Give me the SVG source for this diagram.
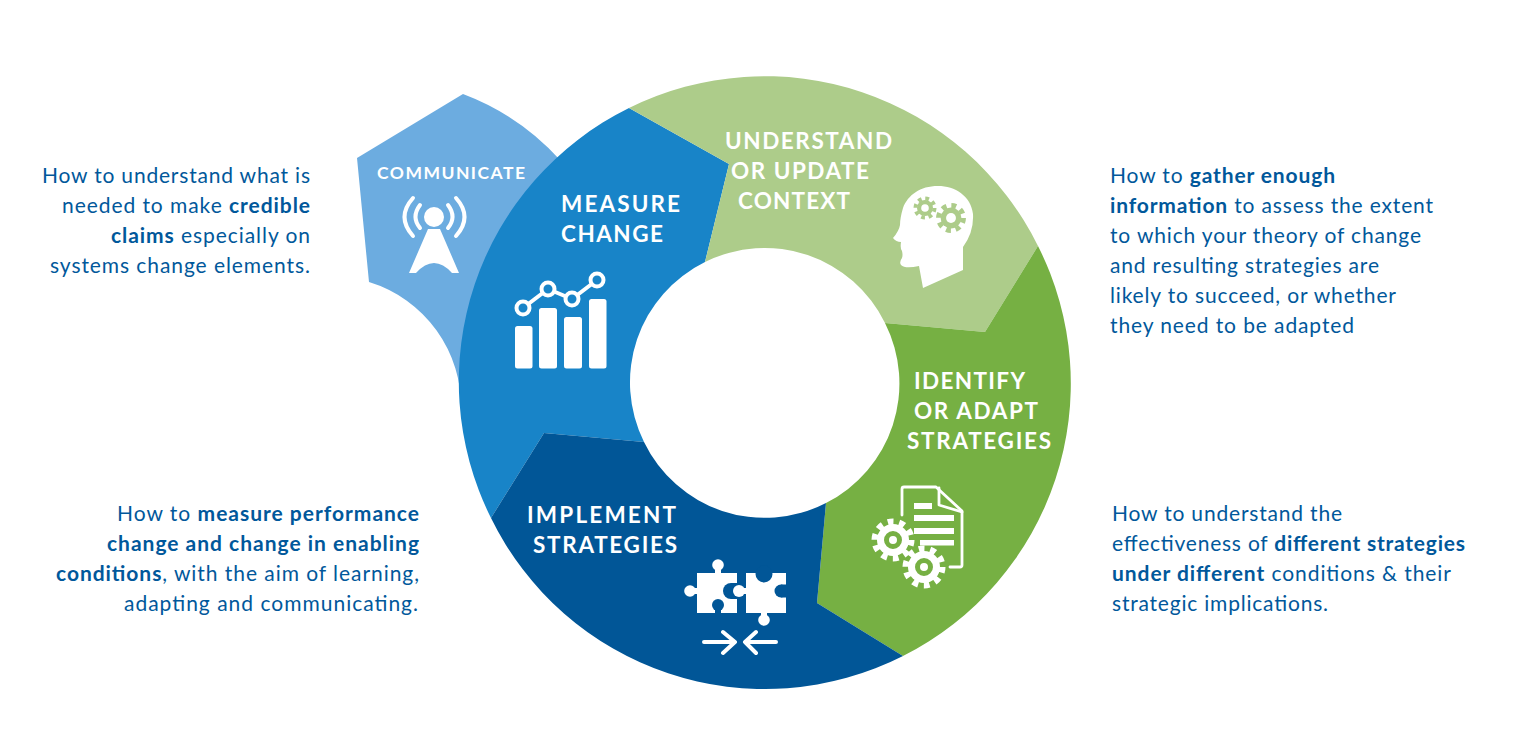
<svg xmlns="http://www.w3.org/2000/svg" width="1516" height="734" viewBox="0 0 1516 734">
<style>
.b{font-family:"Lato","Liberation Sans",sans-serif;font-size:21px;fill:#01589b}
.e{text-anchor:end}
.s{font-weight:700}
.l{font-family:"Lato","Liberation Sans",sans-serif;font-size:22.500px;font-weight:700;fill:#fff}
.w{fill:#fff}
.d{fill:#015697}
.ws{fill:none;stroke:#fff;stroke-linecap:round;stroke-linejoin:round}
</style>
<defs>
<g id="gear"><circle r="16" fill="#fff"/><circle r="18" fill="none" stroke="#fff" stroke-width="7" stroke-dasharray="5.650 5.650"/><circle r="6.500" fill="none" stroke="#76b043" stroke-width="5"/></g>
<g id="hgear"><circle r="8" fill="#adcc8a"/><circle r="9.500" fill="none" stroke="#adcc8a" stroke-width="4" stroke-dasharray="3.730 3.730"/><circle r="3.800" fill="#fff"/></g>
</defs>
<g id="connectors"></g>
<g id="communicate">
<path d="M463 94L357 158L369 282A130 130 0 0 1 461 410L560 160A250 250 0 0 0 463 94Z" fill="#6cace0"/>
<text x="377" y="179" class="l" style="font-size:17.500px" textLength="148">COMMUNICATE</text>
<circle cx="434" cy="217" r="10" class="w"/>
<path d="M420 205Q411 217 420 228M413 198Q396 217 413 236M448 205Q457 217 448 228M456 198Q473 217 456 236" class="ws" stroke-width="4"/>
<path d="M428 229H440L459 273H452Q434 253 416 273H409Z" class="w"/>
</g>
<g id="measure-change">
<path d="M491 518A305 305 0 0 1 629 108L729 164L705 262A134 134 0 0 0 644 442L544 433Z" fill="#1884c8"/>
<text x="561" y="212" class="l" textLength="119">MEASURE</text>
<text x="561" y="242" class="l" textLength="102">CHANGE</text>
<rect x="515" y="326" width="17.500" height="42.500" rx="2.500" class="w"/>
<rect x="539" y="308" width="18" height="60.500" rx="2.500" class="w"/>
<rect x="564" y="317" width="18" height="51.500" rx="2.500" class="w"/>
<rect x="589" y="299" width="17.500" height="69.500" rx="2.500" class="w"/>
<path d="M523 308L548 289L572 299L597 280" class="ws" stroke-width="4"/>
<g fill="#1884c8" stroke="#fff" stroke-width="4"><circle cx="523" cy="308" r="6.500"/><circle cx="548" cy="289" r="6.500"/><circle cx="572" cy="299" r="6.500"/><circle cx="597" cy="280" r="6.500"/></g>
</g>
<g id="understand">
<path d="M629 108A305 305 0 0 1 1038 246L985 332L885 323A134 134 0 0 0 705 262L729 164Z" fill="#adcc8a"/>
<text x="725" y="149" class="l" textLength="167">UNDERSTAND</text>
<text x="731" y="179" class="l" textLength="138">OR UPDATE</text>
<text x="738" y="209" class="l" textLength="112">CONTEXT</text>
<path d="M923 288L963 270V247Q974 232 973 214C971 196 955 186 938 186C920 186 908 195 903 208Q900 218 900 225Q899 231 893 238Q896 242 901 242Q900 249 902 251Q903 255 902 258Q899 262 901 265Q905 269 919 266Z" class="w"/>
<use href="#hgear" x="925" y="208"/>
<use href="#hgear" transform="translate(951 218) scale(1.300)"/>
</g>
<g id="identify">
<path d="M1038 246A305 305 0 0 1 903 656L817 603L826 503A134 134 0 0 0 885 323L985 332Z" fill="#76b043"/>
<text x="914" y="389" class="l" textLength="111">IDENTIFY</text>
<text x="914" y="419" class="l" textLength="124">OR ADAPT</text>
<text x="907" y="449" class="l" textLength="144">STRATEGIES</text>
<path d="M902 515V489Q902 487 904 487H936L962 511V565Q962 567 960 567H950" class="ws" stroke-width="2.800"/>
<path d="M939 488V505L962 512" class="ws" stroke-width="2.800"/>
<path d="M914 503h18v6h-18zM914 515h40v6h-40zM914 528h40v6h-40zM920 540h34v5.500h-34z" class="w"/>
<use href="#gear" x="893" y="540"/>
<use href="#gear" x="924" y="567"/>
</g>
<g id="implement">
<path d="M903 656A305 305 0 0 1 491 518L544 433L644 442A134 134 0 0 0 826 503L817 603Z" fill="#015697"/>
<text x="527" y="523" class="l" textLength="149">IMPLEMENT</text>
<text x="533" y="553" class="l" textLength="144">STRATEGIES</text>
<path d="M697 573H737V613H697Z" class="w"/>
<circle cx="718" cy="565" r="5.800" class="w"/><rect x="715" y="566" width="6" height="8" class="w"/>
<circle cx="690" cy="591" r="5.800" class="w"/><rect x="690" y="588" width="8" height="6" class="w"/>
<circle cx="731" cy="591" r="8" class="d"/><rect x="731" y="583" width="7" height="16" class="d"/>
<circle cx="718" cy="605" r="6" class="d"/><rect x="715" y="606" width="6" height="8" class="d"/>
<path d="M746 573H786V613H746Z" class="w"/>
<circle cx="739" cy="591" r="6" class="w"/><rect x="739" y="588" width="8" height="6" class="w"/>
<circle cx="764" cy="574" r="8.500" class="d"/>
<circle cx="781" cy="591" r="6.500" class="d"/><rect x="781" y="584.500" width="6" height="13" class="d"/>
<circle cx="764" cy="620" r="5.800" class="w"/><rect x="761" y="612" width="6" height="8" class="w"/>
<path d="M704 642H734M723 632L735 642L723 653M776 642H746M756 632L745 642L756 653" class="ws" stroke-width="4"/>
</g>
<g id="text-communicate">
<text x="310" y="183" class="b e" textLength="268">How to understand what is</text>
<text x="310" y="213" class="b e" textLength="248">needed to make <tspan class="s">credible</tspan></text>
<text x="310" y="243" class="b e" textLength="199"><tspan class="s">claims</tspan> especially on</text>
<text x="310" y="273" class="b e" textLength="260">systems change elements.</text>
</g>
<g id="text-understand">
<text x="1110" y="183" class="b" textLength="225">How to <tspan class="s">gather enough</tspan></text>
<text x="1110" y="213" class="b" textLength="323"><tspan class="s">information</tspan> to assess the extent</text>
<text x="1110" y="243" class="b" textLength="311">to which your theory of change</text>
<text x="1110" y="273" class="b" textLength="269">and resulting strategies are</text>
<text x="1110" y="303" class="b" textLength="286">likely to succeed, or whether</text>
<text x="1110" y="333" class="b" textLength="244">they need to be adapted</text>
</g>
<g id="text-measure">
<text x="419" y="521" class="b e" textLength="302">How to <tspan class="s">measure performance</tspan></text>
<text x="419" y="551" class="b e s" textLength="312">change and change in enabling</text>
<text x="419" y="581" class="b e" textLength="363"><tspan class="s">conditions</tspan>, with the aim of learning,</text>
<text x="418" y="611" class="b e" textLength="294">adapting and communicating.</text>
</g>
<g id="text-identify">
<text x="1112" y="521" class="b" textLength="230">How to understand the</text>
<text x="1112" y="551" class="b" textLength="353">effectiveness of <tspan class="s">different strategies</tspan></text>
<text x="1112" y="581" class="b" textLength="339"><tspan class="s">under different</tspan> conditions &amp; their</text>
<text x="1112" y="611" class="b" textLength="216">strategic implications.</text>
</g>
</svg>
